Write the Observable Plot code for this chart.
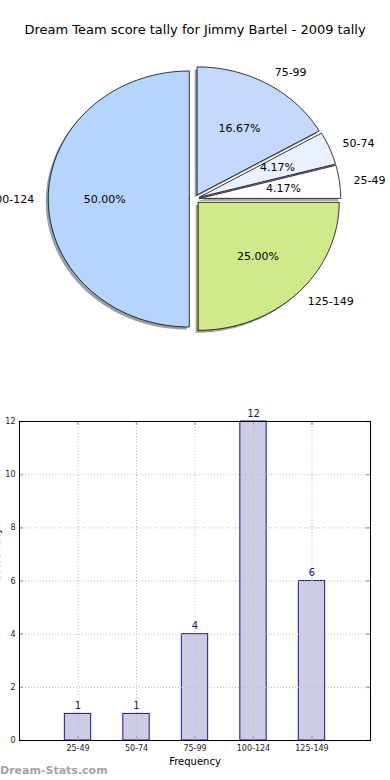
<!DOCTYPE html>
<html><head><meta charset="utf-8">
<script src="https://cdn.jsdelivr.net/npm/d3@7"></script>
<script src="https://cdn.jsdelivr.net/npm/@observablehq/plot@0.6"></script>
<style>
body{margin:0;background:#fff;font-family:"DejaVu Sans",sans-serif;}
#wrap{position:relative;width:390px;height:780px;overflow:hidden;background:#fff;}
#title{position:absolute;top:21px;left:0;width:390px;text-align:center;font-size:13px;line-height:18px;color:#000;}
#pie{position:absolute;top:50px;left:0;}
#bar{position:absolute;top:390px;left:0;}
#wm{position:absolute;left:0;top:763px;font-size:11px;font-weight:bold;color:#a3a3a3;line-height:15px;}
</style></head><body>
<div id="wrap"><div id="title"></div><div id="pie"></div><div id="bar"></div><div id="wm"></div></div>
<script>
const title = "Dream Team score tally for Jimmy Bartel - 2009 tally";
const categories = ["25-49", "50-74", "75-99", "100-124", "125-149"];
const counts = [1, 1, 4, 12, 6];
const sliceColors = ["#ffffff", "#e9f0ff", "#c5d9ff", "#b5d5ff", "#cfe98b"];
const yTicks = [0, 2, 4, 6, 8, 10, 12];
const xLabel = "Frequency";
const yLabel = "Score Tally";
const watermark = "Dream-Stats.com";

document.getElementById("title").textContent = title;
document.getElementById("wm").textContent = watermark;

// ---- pie geometry from the data ----
const total = d3.sum(counts);
const explode = 0.037;
let acc = 0;
const slices = counts.map((v, i) => {
  const a0 = acc / total * 2 * Math.PI; acc += v;
  const a1 = acc / total * 2 * Math.PI;
  const mid = (a0 + a1) / 2;
  const ox = explode * Math.cos(mid), oy = explode * Math.sin(mid);
  const pts = [{x: ox, y: oy}];
  const n = Math.max(8, Math.ceil((a1 - a0) / (Math.PI / 180)));
  for (let k = 0; k <= n; k++) {
    const a = a0 + (a1 - a0) * k / n;
    pts.push({x: ox + Math.cos(a), y: oy + Math.sin(a)});
  }
  pts.push({x: ox, y: oy});
  const c = d3.rgb(sliceColors[i]);
  const shadow = d3.rgb(c.r * 0.3, c.g * 0.3, c.b * 0.3).formatHex();
  return {cat: categories[i], value: v, pct: v / total * 100, color: sliceColors[i], shadow, mid, ox, oy, pts};
});

const pieMarks = [];
slices.forEach(s => {
  pieMarks.push(Plot.line(s.pts, {x: "x", y: "y", fill: s.shadow, fillOpacity: 0.5, stroke: "none", dx: -2.5, dy: 2.5}));
  pieMarks.push(Plot.line(s.pts, {x: "x", y: "y", fill: s.color, stroke: "black", strokeWidth: 0.8, strokeLinejoin: "miter"}));
});
pieMarks.push(Plot.text(slices.filter(s => Math.cos(s.mid) >= 0), {
  x: s => s.ox + 1.1 * Math.cos(s.mid), y: s => s.oy + 1.1 * Math.sin(s.mid),
  text: "cat", textAnchor: "start", fontSize: 11, fill: "black"}));
pieMarks.push(Plot.text(slices.filter(s => Math.cos(s.mid) < 0), {
  x: s => s.ox + 1.1 * Math.cos(s.mid), y: s => s.oy + 1.1 * Math.sin(s.mid),
  text: "cat", textAnchor: "end", fontSize: 11, fill: "black"}));
pieMarks.push(Plot.text(slices, {
  x: s => s.ox + 0.6 * Math.cos(s.mid), y: s => s.oy + 0.6 * Math.sin(s.mid),
  text: s => s.pct.toFixed(2) + "%", fontSize: 11, fill: "black"}));

const pie = Plot.plot({
  width: 390, height: 340,
  marginLeft: 0, marginRight: 0, marginTop: 0, marginBottom: 0,
  style: {fontFamily: "DejaVu Sans", background: "transparent", overflow: "visible"},
  x: {domain: [-1, 1], range: [53, 335], axis: null},
  y: {domain: [-1, 1], range: [276.5, 20.5], axis: null},
  marks: pieMarks
});
document.getElementById("pie").appendChild(pie);

// ---- bar chart ----
const idx = categories.map((d, i) => i);
const barData = categories.map((c, i) => ({i, cat: c, value: counts[i]}));
const grid = "#bdbdbd";
const bar = Plot.plot({
  width: 390, height: 390,
  marginLeft: 19, marginRight: 20, marginTop: 31, marginBottom: 40,
  style: {fontFamily: "DejaVu Sans", background: "transparent", overflow: "visible"},
  x: {domain: [-1, 5], axis: null},
  y: {domain: [0, 12], axis: null},
  marks: [
    Plot.rectY(barData, {x1: d => d.i - 0.225, x2: d => d.i + 0.225, y1: 0, y2: "value", fill: "#ccccE5", stroke: "#161685", strokeWidth: 1}),
    Plot.ruleY(yTicks.slice(1, -1), {x1: -1, x2: 5, y: d => d, stroke: grid, strokeDasharray: "1,2", strokeWidth: 1}),
    Plot.ruleX(idx, {x: d => d, y1: 0, y2: 12, stroke: grid, strokeDasharray: "1,2", strokeWidth: 1}),
    Plot.ruleX(idx, {x: d => d, y1: 12, y2: 11.86, stroke: "#aaa", strokeWidth: 1.5}),
    Plot.ruleX(idx, {x: d => d, y1: 0, y2: 0.14, stroke: "#aaa", strokeWidth: 1.5}),
    Plot.ruleY(yTicks, {y: d => d, x1: -1, x2: -0.93, stroke: "#aaa", strokeWidth: 1.5}),
    Plot.ruleY(yTicks, {y: d => d, x1: 5, x2: 4.93, stroke: "#aaa", strokeWidth: 1.5}),
    Plot.frame({stroke: "black", strokeWidth: 1}),
    Plot.text(barData, {x: "i", y: "value", text: d => String(d.value), dy: -8, fontSize: 10, fill: "#161685"}),
    Plot.text(barData, {x: "i", y: 0, text: "cat", dy: 8, fontSize: 8, fill: "#222"}),
    Plot.text(yTicks, {x: -1, y: d => d, text: d => String(d), dx: -4, textAnchor: "end", fontSize: 8, fill: "#222"}),
    Plot.text([xLabel], {frameAnchor: "bottom", text: d => d, dy: 24, fontSize: 10, fill: "black"}),
    Plot.text([yLabel], {frameAnchor: "left", text: d => d, dx: -23, rotate: -90, fontSize: 10, fill: "black"})
  ]
});
document.getElementById("bar").appendChild(bar);
</script>
</body></html>
